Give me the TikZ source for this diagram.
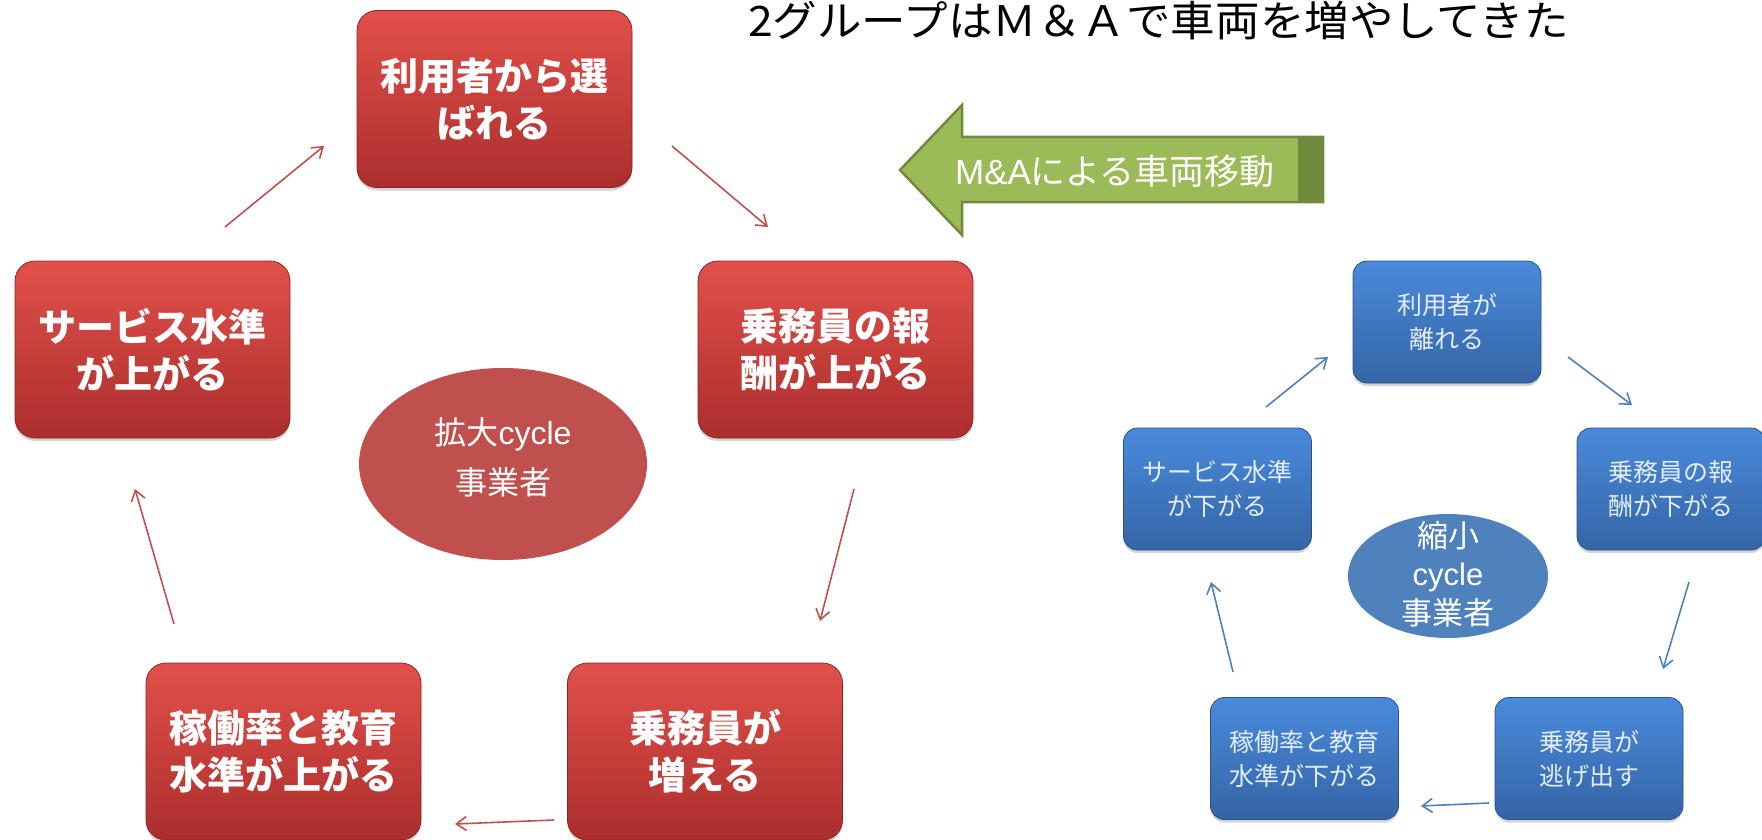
\documentclass[tikz,border=0pt]{standalone}
\usepackage{fontspec}
\setmainfont{Noto Sans CJK JP}
\newfontfamily\titlefont[FakeStretch=1.06]{Noto Sans CJK JP}
\newfontfamily\lat{Liberation Sans}
\usetikzlibrary{arrows.meta,shapes.geometric,shadows}
\definecolor{redtop}{HTML}{E2504B}
\definecolor{redbot}{HTML}{AB2E2C}
\definecolor{redell}{HTML}{C0504D}
\definecolor{bluetop}{HTML}{4A8ADB}
\definecolor{bluebot}{HTML}{3465A6}
\definecolor{blueell}{HTML}{4F81BD}
\definecolor{bluearr}{HTML}{4F7FBF}
\definecolor{greenfill}{HTML}{9BBB59}
\definecolor{greendark}{HTML}{71893F}
\tikzset{
  redbox/.style={rectangle, rounded corners=20pt, top color=redtop, bottom color=redbot,
    draw=redbot!80!black, line width=0.8pt, text=white, align=center,
    drop shadow={opacity=0.35, shadow xshift=0pt, shadow yshift=-3pt},
    font=\fontsize{38}{47}\selectfont\bfseries, minimum width=275pt, minimum height=177pt},
  bluebox/.style={rectangle, rounded corners=14pt, top color=bluetop, bottom color=bluebot,
    draw=bluebot!80!black, line width=0.8pt, text=white!85!bluetop, align=center,
    drop shadow={opacity=0.35, shadow xshift=0pt, shadow yshift=-3pt},
    font=\fontsize{25}{34}\selectfont, minimum width=188pt, minimum height=122pt},
  redarrow/.style={draw=redell, line width=1.6pt, -{Straight Barb[length=10pt,width=14pt]}},
  bluearrow/.style={draw=bluearr, line width=1.6pt, -{Straight Barb[length=10pt,width=14pt]}},
}
\begin{document}
\begin{tikzpicture}[x=1pt,y=-1pt]
\useasboundingbox (0,0) rectangle (1762,840);
% title
\node[anchor=base west, inner sep=0pt, font=\titlefont\fontsize{42}{42}\selectfont] (title) at (748,37) {2グループはＭ＆Ａで車両を増やしてきた};
% red cycle
\node[redbox] (r1) at (494.5,99) {利用者から選\\ばれる};
\node[redbox] (r2) at (835.5,349.5) {乗務員の報\\酬が上がる};
\node[redbox] (r3) at (705,751.5) {乗務員が\\増える};
\node[redbox] (r4) at (283.5,751.5) {稼働率と教育\\水準が上がる};
\node[redbox] (r5) at (152.5,349.5) {サービス水準\\が上がる};
\node[ellipse, fill=redell, minimum width=288pt, minimum height=192pt] (re) at (503,464) {};
\node[text=white, align=center, font=\fontsize{32}{50}\selectfont] (ret) at (503,457) {拡大{\lat cycle}\\事業者};
\coordinate (ra1s) at (225,227); \coordinate (ra1e) at (324,146);
\coordinate (ra2s) at (672,146); \coordinate (ra2e) at (768,227);
\coordinate (ra3s) at (854,489); \coordinate (ra3e) at (820,621);
\coordinate (ra4s) at (554,820); \coordinate (ra4e) at (455,824);
\coordinate (ra5s) at (174,624); \coordinate (ra5e) at (135,489);
\draw[redarrow] (ra1s) -- (ra1e);
\draw[redarrow] (ra2s) -- (ra2e);
\draw[redarrow] (ra3s) -- (ra3e);
\draw[redarrow] (ra4s) -- (ra4e);
\draw[redarrow] (ra5s) -- (ra5e);
% green arrow
\fill[greenfill, draw=greendark, line width=2.5pt, line join=miter]
  (900,170) -- (962,105) -- (962,137) -- (1323,137) -- (1323,202) -- (962,202) -- (962,235) -- cycle;
\fill[greendark] (1298,137) rectangle (1324,202);
\node[text=white, font=\fontsize{35}{35}\selectfont, inner sep=0pt] (gt) at (1115,171) {{\lat M\&A}による車両移動};
% blue cycle
\node[bluebox] (b1) at (1447,322) {利用者が\\離れる};
\node[bluebox] (b2) at (1671,489) {乗務員の報\\酬が下がる};
\node[bluebox] (b3) at (1589,758.5) {乗務員が\\逃げ出す};
\node[bluebox] (b4) at (1304.5,758.5) {稼働率と教育\\水準が下がる};
\node[bluebox] (b5) at (1217.5,489) {サービス水準\\が下がる};
\node[ellipse, fill=blueell, minimum width=200pt, minimum height=124pt, inner sep=0pt] (be) at (1448,576) {};
\node[text=white, align=center, font=\fontsize{31}{38.5}\selectfont, inner sep=0pt] (bet) at (1448,574) {縮小\\{\lat cycle}\\事業者};
\coordinate (ba1s) at (1266,407); \coordinate (ba1e) at (1328,357);
\coordinate (ba2s) at (1568,357); \coordinate (ba2e) at (1632,405);
\coordinate (ba3s) at (1689,582); \coordinate (ba3e) at (1663,669);
\coordinate (ba4s) at (1489,803); \coordinate (ba4e) at (1421,806);
\coordinate (ba5s) at (1233,672); \coordinate (ba5e) at (1211,582);
\draw[bluearrow] (ba1s) -- (ba1e);
\draw[bluearrow] (ba2s) -- (ba2e);
\draw[bluearrow] (ba3s) -- (ba3e);
\draw[bluearrow] (ba4s) -- (ba4e);
\draw[bluearrow] (ba5s) -- (ba5e);
\end{tikzpicture}
\end{document}
